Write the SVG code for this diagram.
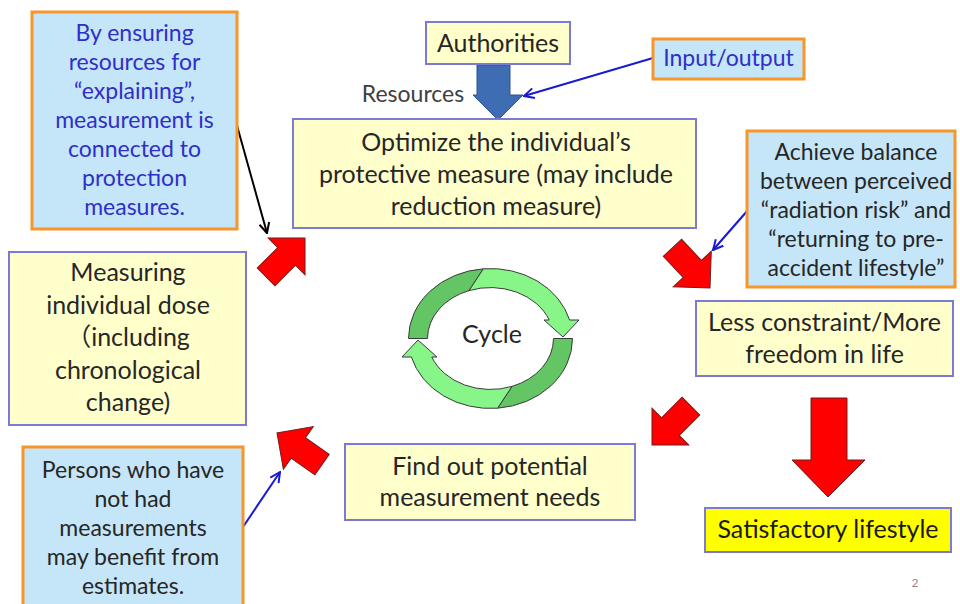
<svg xmlns="http://www.w3.org/2000/svg" width="960" height="604" viewBox="0 0 960 604">
<defs>
<style>
.ybox{fill:#FFFFCC;stroke:#7B7BD6;stroke-width:2}
.bbox{fill:#C5E5F8;stroke:#F7962A;stroke-width:3}
.sbox{fill:#FFFF00;stroke:#7B7BD6;stroke-width:2}
.t{font-family:Lato,"Noto Sans CJK JP","Liberation Sans",sans-serif;font-size:25px;fill:#262626;text-anchor:middle}
.c{font-family:Lato,"Noto Sans CJK JP","Liberation Sans",sans-serif;font-size:23px;fill:#262626;text-anchor:middle}
.bl{fill:#2F2FC8}
.red{fill:#FF0000;stroke:#6E1C1C;stroke-width:1}
.ln{fill:none;stroke-width:2}
.dk{fill:#63C563;stroke:#3A3A3A;stroke-width:1}
.lt{fill:#88F588;stroke:#3A3A3A;stroke-width:1}
</style>
<marker id="ab" viewBox="0 0 12 12" refX="11" refY="6" markerWidth="12" markerHeight="12" markerUnits="userSpaceOnUse" orient="auto">
<path d="M1,1 L11,6 L1,11" fill="none" stroke="#1A1AD0" stroke-width="2"/>
</marker>
<marker id="ak" viewBox="0 0 12 12" refX="11" refY="6" markerWidth="12" markerHeight="12" markerUnits="userSpaceOnUse" orient="auto">
<path d="M1,1 L11,6 L1,11" fill="none" stroke="#000" stroke-width="2"/>
</marker>
<polygon id="ra" points="0,0 -26,-26 -26,-12.5 -55,-12.5 -55,12.5 -26,12.5 -26,26"/>
<g id="carc">
<path class="dk" d="M408.5 338.5 A82 70 0 0 1 483.4 268.8 L469 290.6 A63 51 0 0 0 427.5 338.5 Z"/>
<path class="lt" d="M483.4 268.8 A82 70 0 0 1 569.6 320 L579 320 L563 337 L544 320 L549.2 320 A63 51 0 0 0 469 290.6 Z"/>
</g>
</defs>
<rect width="960" height="604" fill="#FFFFFF"/>

<g id="connectors">
<line class="ln" x1="236" y1="122" x2="267" y2="233" stroke="#000" marker-end="url(#ak)"/>
<line class="ln" x1="653" y1="58" x2="524" y2="96" stroke="#1A1AD0" marker-end="url(#ab)"/>
<line class="ln" x1="748" y1="210" x2="713" y2="250" stroke="#1A1AD0" marker-end="url(#ab)"/>
<line class="ln" x1="243" y1="527" x2="280" y2="472" stroke="#1A1AD0" marker-end="url(#ab)"/>
<polygon points="477,65 510,65 510,95 523,95 498,120 473,95 477,95" fill="#3F6DB3" stroke="#2F528F" stroke-width="1"/>
<use href="#ra" class="red" transform="translate(305 238) rotate(-45)"/>
<use href="#ra" class="red" transform="translate(710 288) rotate(47)"/>
<use href="#ra" class="red" transform="translate(652 445) rotate(135)"/>
<use href="#ra" class="red" transform="translate(277 433) rotate(215)"/>
<polygon class="red" points="811,398 847,398 847,460 865,460 828,497 792,460 811,460"/>
</g>

<g id="explaining-note">
<rect class="bbox" x="32" y="12" width="205" height="217"/>
<text class="c bl" x="134.5"><tspan x="134.5" y="41">By ensuring</tspan><tspan x="134.5" y="70">resources for</tspan><tspan x="134.5" y="99">“explaining”,</tspan><tspan x="134.5" y="128">measurement is</tspan><tspan x="134.5" y="157">connected to</tspan><tspan x="134.5" y="186">protection</tspan><tspan x="134.5" y="215">measures.</tspan></text>
</g>

<g id="authorities">
<rect class="ybox" x="426" y="22" width="144" height="42"/>
<text class="t" x="498" y="52">Authorities</text>
</g>

<g id="resources-label">
<text class="c" x="413" y="102" style="fill:#404040">Resources</text>
</g>

<g id="input-output">
<rect class="bbox" x="653" y="39" width="151" height="40"/>
<text class="c bl" x="728.5" y="66">Input/output</text>
</g>

<g id="optimize">
<rect class="ybox" x="293" y="119" width="403" height="109"/>
<text class="t"><tspan x="496" y="151">Optimize the individual’s</tspan><tspan x="496" y="183">protective measure (may include</tspan><tspan x="496" y="215">reduction measure)</tspan></text>
</g>

<g id="balance-note">
<rect class="bbox" x="747" y="131" width="208" height="156"/>
<text class="c"><tspan x="856" y="160">Achieve balance</tspan><tspan x="856" y="189">between perceived</tspan><tspan x="856" y="218">“radiation risk” and</tspan><tspan x="856" y="247">“returning to pre-</tspan><tspan x="856" y="276">accident lifestyle”</tspan></text>
</g>

<g id="measuring">
<rect class="ybox" x="9" y="252" width="237" height="173"/>
<text class="t"><tspan x="128" y="281">Measuring</tspan><tspan x="128" y="313.5">individual dose</tspan><tspan x="128" y="346">（including</tspan><tspan x="128" y="378.5">chronological</tspan><tspan x="128" y="411">change)</tspan></text>
</g>

<g id="cycle">
<use href="#carc"/>
<use href="#carc" transform="rotate(180 490.5 338.5)"/>
<text class="t" x="492" y="343">Cycle</text>
</g>

<g id="less-constraint">
<rect class="ybox" x="696" y="301" width="257" height="75"/>
<text class="t"><tspan x="824.5" y="331">Less constraint/More</tspan><tspan x="824.5" y="363">freedom in life</tspan></text>
</g>

<g id="find-out">
<rect class="ybox" x="345" y="444" width="290" height="76"/>
<text class="t"><tspan x="490" y="475">Find out potential</tspan><tspan x="490" y="506">measurement needs</tspan></text>
</g>

<g id="persons-note">
<rect class="bbox" x="23" y="447" width="220" height="160"/>
<text class="c"><tspan x="133" y="478">Persons who have</tspan><tspan x="133" y="507">not had</tspan><tspan x="133" y="536">measurements</tspan><tspan x="133" y="565">may benefit from</tspan><tspan x="133" y="594">estimates.</tspan></text>
</g>

<g id="satisfactory">
<rect class="sbox" x="705" y="508" width="246" height="44"/>
<text class="t" x="828" y="538" style="fill:#1A1A1A">Satisfactory lifestyle</text>
</g>

<text x="915" y="587" style="font-family:Lato,'Liberation Sans',sans-serif;font-size:12px;fill:#8C8C8C;text-anchor:middle">2</text>
</svg>
